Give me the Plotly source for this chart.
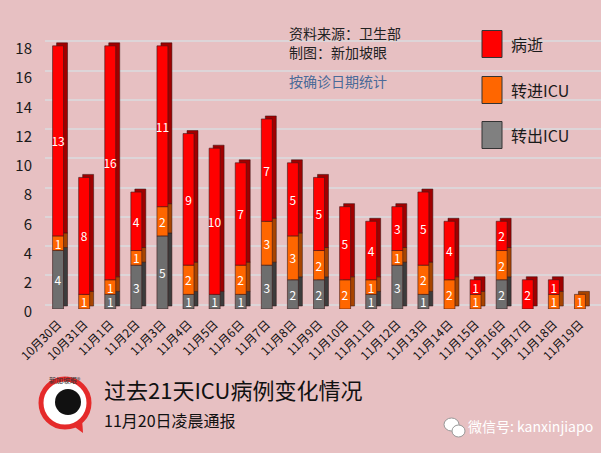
import plotly.graph_objects as go

dates = ["10月30日", "10月31日", "11月1日", "11月2日", "11月3日", "11月4日", "11月5日",
         "11月6日", "11月7日", "11月8日", "11月9日", "11月10日", "11月11日", "11月12日",
         "11月13日", "11月14日", "11月15日", "11月16日", "11月17日", "11月18日", "11月19日"]
out_icu = [4, 0, 1, 3, 5, 1, 1, 1, 3, 2, 2, 0, 1, 3, 1, 0, 0, 2, 0, 0, 0]   # 转出ICU
in_icu = [1, 1, 1, 1, 2, 2, 0, 2, 3, 3, 2, 2, 1, 1, 2, 2, 1, 2, 0, 1, 1]    # 转进ICU
deaths = [13, 8, 16, 4, 11, 9, 10, 7, 7, 5, 5, 5, 4, 3, 5, 4, 1, 2, 2, 1, 0]  # 病逝
y_ticks = [0, 2, 4, 6, 8, 10, 12, 14, 16, 18]

W, H = 601, 453
ML, MR, MT, MB = 45, 0, 40, 144
PW, PH = W - ML - MR, H - MT - MB
YMAX = 18.4
CAT_PX = 548 / 21                 # pixels per category
XMAX = -0.5 + PW / CAT_PX
UNIT = PH / YMAX                  # pixels per value unit
FONT = "Noto Sans CJK SC"


def px(x):
    return (x - ML) / PW


def py(y):
    return (H - MB - y) / PH


series = [
    ("转出ICU", out_icu, "#6e6e6e", "#3c3c3c", "#808080"),
    ("转进ICU", in_icu, "#ff6600", "#a84400", "#ff6600"),
    ("病逝", deaths, "#ff0000", "#a00000", "#ff0000"),
]

# cumulative bases derived from the data
bases = []
run = [0] * len(dates)
for _, vals, *_ in series:
    bases.append(list(run))
    run = [r + v for r, v in zip(run, vals)]

BW = 0.42
DX = 4 / CAT_PX        # depth offset in category units
DY = 3 / UNIT          # depth offset in value units
GY = 4.5 / UNIT        # back-wall gridline offset

fig = go.Figure()
# depth (side/top) faces behind the front faces
for (name, vals, front, side, _), base in zip(series, bases):
    idx = [i for i, v in enumerate(vals) if v]
    fig.add_trace(go.Bar(
        x=[dates[i] for i in idx], y=[vals[i] for i in idx], base=[base[i] + DY for i in idx],
        width=BW, offset=-BW / 2 + DX,
        marker=dict(color=side, line=dict(color="#2a1010", width=0.5)),
        hoverinfo="skip", showlegend=False, cliponaxis=False))
# front faces
for (name, vals, front, side, _), base in zip(series, bases):
    idx = [i for i, v in enumerate(vals) if v]
    fig.add_trace(go.Bar(
        x=[dates[i] for i in idx], y=[vals[i] for i in idx], base=[base[i] for i in idx],
        name=name, width=BW, offset=-BW / 2,
        marker=dict(color=front, line=dict(color="#3a1a1a", width=0.6)),
        text=[str(vals[i]) for i in idx], textposition="inside",
        insidetextanchor="middle", textangle=0, constraintext="none",
        textfont=dict(color="white", size=12, family=FONT), showlegend=False, cliponaxis=False))

fig.update_layout(
    width=W, height=H, margin=dict(l=ML, r=MR, t=MT, b=MB),
    barmode="overlay", paper_bgcolor="#e7c0c2", plot_bgcolor="rgba(0,0,0,0)",
    font=dict(family=FONT, color="#1a1a1a"),
    xaxis=dict(type="category", categoryorder="array", categoryarray=dates, range=[-0.5, XMAX],
               tickangle=-45, showgrid=False, tickvals=dates, ticktext=dates,
               tickfont=dict(size=12, color="#111"), ticks="", zeroline=False, showline=False,
               ticklabelstandoff=5),
    yaxis=dict(range=[0, YMAX], tickvals=y_ticks, showgrid=False,
               tickfont=dict(size=15, color="#1a1a1a"), ticks="", zeroline=False,
               ticklabelstandoff=12, ticklabelshift=3),
    yaxis2=dict(overlaying="y", range=[-GY, YMAX - GY], tickvals=y_ticks, showgrid=True,
                gridcolor="#ddd5d8", gridwidth=1.5, showticklabels=False, ticks="", zeroline=False),
)
# invisible trace to activate the gridline axis
fig.add_trace(go.Scatter(x=[dates[0]], y=[0], yaxis="y2", mode="markers",
                         marker=dict(opacity=0), hoverinfo="skip", showlegend=False))

ann = []
shapes = []
ann.append(dict(x=px(287), y=py(33), text="资料来源：卫生部", xanchor="left", yanchor="middle",
                font=dict(size=14, color="#222")))
ann.append(dict(x=px(287), y=py(52), text="制图：新加坡眼", xanchor="left", yanchor="middle",
                font=dict(size=14, color="#222")))
ann.append(dict(x=px(287), y=py(81), text="按确诊日期统计", xanchor="left", yanchor="middle",
                font=dict(size=14, color="#4a6a98")))

# legend
leg_y = {"病逝": 44, "转进ICU": 90, "转出ICU": 135}
for name, vals, front, side, legc in series:
    cy = leg_y[name]
    shapes.append(dict(type="rect", xref="paper", yref="paper", x0=px(482), x1=px(502),
                       y0=py(cy - 13.5), y1=py(cy + 13.5), fillcolor=legc,
                       line=dict(color="#333", width=1)))
    ann.append(dict(x=px(509), y=py(cy), text=name, xanchor="left", yanchor="middle",
                    font=dict(size=16, color="#1a1a1a")))

# titles
ann.append(dict(x=px(102), y=py(389), text="过去21天ICU病例变化情况", xanchor="left", yanchor="middle",
                font=dict(size=22, color="#111")))
ann.append(dict(x=px(102), y=py(420), text="11月20日凌晨通报", xanchor="left", yanchor="middle",
                font=dict(size=16, color="#111")))
ann.append(dict(x=px(466), y=py(426), text="微信号: kanxinjiapo", xanchor="left", yanchor="middle",
                font=dict(size=14, color="white", family=FONT)))
ann.append(dict(x=px(65), y=py(380), text="新加坡眼®", xanchor="center", yanchor="middle",
                font=dict(size=7, color="#333")))

# logo
shapes.append(dict(type="path", xref="paper", yref="paper",
                   path=f"M {px(72)} {py(425)} L {px(83)} {py(433)} L {px(82)} {py(418)} Z",
                   fillcolor="#e52a2a", line=dict(width=0)))
shapes.append(dict(type="circle", xref="paper", yref="paper", x0=px(41), x1=px(89),
                   y0=py(427), y1=py(379), fillcolor="white", line=dict(color="#e52a2a", width=5)))
shapes.append(dict(type="circle", xref="paper", yref="paper", x0=px(55), x1=px(81),
                   y0=py(415), y1=py(389), fillcolor="#111", line=dict(width=0)))
# wechat icon
shapes.append(dict(type="circle", xref="paper", yref="paper", x0=px(444), x1=px(459),
                   y0=py(431), y1=py(418), fillcolor="white", line=dict(color="#999", width=1)))
shapes.append(dict(type="circle", xref="paper", yref="paper", x0=px(452), x1=px(465),
                   y0=py(437), y1=py(425), fillcolor="white", line=dict(color="#999", width=1)))

fig.update_layout(annotations=[dict(a, xref="paper", yref="paper", showarrow=False) for a in ann],
                  shapes=shapes)

fig.write_html("out.html")
